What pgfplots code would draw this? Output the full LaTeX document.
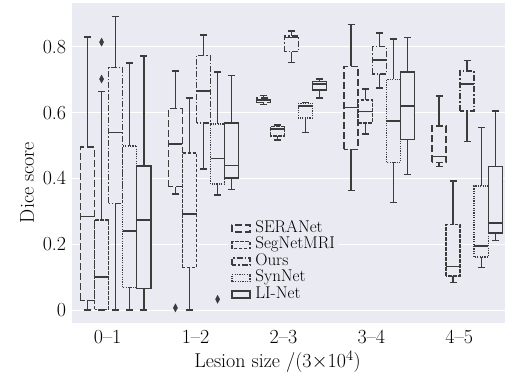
\documentclass[border=0pt]{standalone}
\usepackage{fontspec}
\usepackage{pgfplots}
\pgfplotsset{compat=1.18}
\usepgfplotslibrary{statistics}
\definecolor{bgc}{HTML}{EAEAF2}
\definecolor{dk}{HTML}{3C3C3C}
\tikzset{
  sera/.style={draw=dk, line width=1.5pt, dash pattern=on 7pt off 3pt},
  seg/.style={draw=dk, line width=1.5pt, dash pattern=on 3.5pt off 1.5pt},
  ours/.style={draw=dk, line width=1.5pt, dash pattern=on 6pt off 2pt on 1.5pt off 2pt},
  syn/.style={draw=dk, line width=1.5pt, dash pattern=on 1.2pt off 1.2pt},
  lin/.style={draw=dk, line width=1.5pt, solid},
  outl/.style={mark=diamond*, mark size=4pt, mark options={solid, fill=dk, draw=dk, xscale=0.7, line width=0.4pt}},
}
\begin{document}
\begin{tikzpicture}
\begin{axis}[
  scale only axis, width=433.3pt, height=320pt,
  xmin=-0.5, xmax=4.43, ymin=-0.04, ymax=0.932,
  axis background/.style={fill=bgc},
  axis line style={draw=none},
  major tick length=0pt,
  ymajorgrids, grid style={white, line width=1.2pt},
  xtick={0,1,2,3,4}, xticklabels={0--1,1--2,2--3,3--4,4--5},
  ytick={0,0.2,0.4,0.6,0.8},
  /pgf/number format/assume math mode=true,
  tick label style={font=\fontsize{20}{24}\selectfont},
  xticklabel style={xshift=-8pt, yshift=-3pt},
  yticklabel style={xshift=-2pt},
  xlabel={Lesion size /(3$\times$10$^4$)},
  ylabel={Dice score},
  every axis x label/.style={at={(axis description cs:0.475,-0.121)}, anchor=center, font=\fontsize{20}{24}\selectfont},
  every axis y label/.style={at={(axis description cs:-0.103,0.44)}, anchor=center, rotate=90, font=\fontsize{20}{24}\selectfont},
  boxplot/draw direction=y,
  boxplot/box extend=0.16,
  boxplot/whisker extend=0.08,
  boxplot/every box/.style={fill=bgc},
  boxplot/every whisker/.style={solid},
  boxplot/every median/.style={solid},
  legend image code/.code={\draw[#1, fill=bgc] (0pt,-3.5pt) rectangle (18pt,3.5pt);},
  legend style={at={(axis description cs:0.361,0.057)}, anchor=south west, draw=none, fill=bgc,
    font=\fontsize{17}{20}\selectfont, row sep=0pt,
    nodes={inner sep=0.5pt, text height=11.5pt, text depth=4pt},
    /tikz/every odd column/.append style={column sep=4pt}},
  legend cell align=left,
]
\addlegendimage{sera}\addlegendentry{SERANet}
\addlegendimage{seg}\addlegendentry{SegNetMRI}
\addlegendimage{ours}\addlegendentry{Ours}
\addlegendimage{syn}\addlegendentry{SynNet}
\addlegendimage{lin}\addlegendentry{LI-Net}

% group 0-1
\addplot[sera, forget plot, boxplot prepared={draw position=-0.32, lower whisker=0.0, lower quartile=0.03, median=0.285, upper quartile=0.495, upper whisker=0.83}] coordinates {};
\addplot[seg, outl, forget plot, boxplot prepared={draw position=-0.16, lower whisker=0.0, lower quartile=0.002, median=0.101, upper quartile=0.274, upper whisker=0.664}] coordinates {(0,0.814) (0,0.702)};
\addplot[ours, forget plot, boxplot prepared={draw position=0, lower whisker=0.0, lower quartile=0.324, median=0.540, upper quartile=0.737, upper whisker=0.892}] coordinates {};
\addplot[syn, forget plot, boxplot prepared={draw position=0.16, lower whisker=0.0, lower quartile=0.069, median=0.240, upper quartile=0.499, upper whisker=0.750}] coordinates {};
\addplot[lin, forget plot, boxplot prepared={draw position=0.32, lower whisker=0.0, lower quartile=0.066, median=0.274, upper quartile=0.438, upper whisker=0.772}] coordinates {};

% group 1-2
\addplot[sera, outl, forget plot, boxplot prepared={draw position=0.68, lower whisker=0.352, lower quartile=0.375, median=0.505, upper quartile=0.612, upper whisker=0.726}] coordinates {(0,0.007)};
\addplot[seg, forget plot, boxplot prepared={draw position=0.84, lower whisker=0.0, lower quartile=0.129, median=0.292, upper quartile=0.478, upper whisker=0.645}] coordinates {};
\addplot[ours, forget plot, boxplot prepared={draw position=1, lower whisker=0.428, lower quartile=0.569, median=0.666, upper quartile=0.773, upper whisker=0.836}] coordinates {};
\addplot[syn, outl, forget plot, boxplot prepared={draw position=1.16, lower whisker=0.350, lower quartile=0.383, median=0.461, upper quartile=0.566, upper whisker=0.724}] coordinates {(0,0.033)};
\addplot[lin, forget plot, boxplot prepared={draw position=1.32, lower whisker=0.367, lower quartile=0.401, median=0.440, upper quartile=0.569, upper whisker=0.713}] coordinates {};

% group 2-3
\addplot[sera, forget plot, boxplot prepared={draw position=1.68, lower whisker=0.625, lower quartile=0.630, median=0.638, upper quartile=0.645, upper whisker=0.652}] coordinates {};
\addplot[seg, forget plot, boxplot prepared={draw position=1.84, lower whisker=0.517, lower quartile=0.529, median=0.550, upper quartile=0.557, upper whisker=0.562}] coordinates {};
\addplot[ours, forget plot, boxplot prepared={draw position=2, lower whisker=0.752, lower quartile=0.785, median=0.828, upper quartile=0.833, upper whisker=0.848}] coordinates {};
\addplot[syn, forget plot, boxplot prepared={draw position=2.16, lower whisker=0.539, lower quartile=0.583, median=0.620, upper quartile=0.628, upper whisker=0.631}] coordinates {};
\addplot[lin, forget plot, boxplot prepared={draw position=2.32, lower whisker=0.645, lower quartile=0.669, median=0.687, upper quartile=0.694, upper whisker=0.702}] coordinates {};

% group 3-4
\addplot[sera, forget plot, boxplot prepared={draw position=2.68, lower whisker=0.363, lower quartile=0.488, median=0.616, upper quartile=0.740, upper whisker=0.868}] coordinates {};
\addplot[seg, forget plot, boxplot prepared={draw position=2.84, lower whisker=0.535, lower quartile=0.569, median=0.603, upper quartile=0.638, upper whisker=0.671}] coordinates {};
\addplot[ours, forget plot, boxplot prepared={draw position=3, lower whisker=0.674, lower quartile=0.717, median=0.760, upper quartile=0.800, upper whisker=0.841}] coordinates {};
\addplot[syn, forget plot, boxplot prepared={draw position=3.16, lower whisker=0.327, lower quartile=0.449, median=0.575, upper quartile=0.701, upper whisker=0.824}] coordinates {};
\addplot[lin, forget plot, boxplot prepared={draw position=3.32, lower whisker=0.412, lower quartile=0.519, median=0.620, upper quartile=0.724, upper whisker=0.828}] coordinates {};

% group 4-5
\addplot[sera, forget plot, boxplot prepared={draw position=3.68, lower whisker=0.436, lower quartile=0.449, median=0.466, upper quartile=0.559, upper whisker=0.651}] coordinates {};
\addplot[seg, forget plot, boxplot prepared={draw position=3.84, lower whisker=0.084, lower quartile=0.104, median=0.132, upper quartile=0.260, upper whisker=0.392}] coordinates {};
\addplot[ours, forget plot, boxplot prepared={draw position=4, lower whisker=0.512, lower quartile=0.605, median=0.687, upper quartile=0.726, upper whisker=0.758}] coordinates {};
\addplot[syn, forget plot, boxplot prepared={draw position=4.16, lower whisker=0.129, lower quartile=0.162, median=0.195, upper quartile=0.377, upper whisker=0.555}] coordinates {};
\addplot[lin, forget plot, boxplot prepared={draw position=4.32, lower whisker=0.211, lower quartile=0.235, median=0.265, upper quartile=0.436, upper whisker=0.605}] coordinates {};
\end{axis}
\pgfresetboundingbox
\path[use as bounding box] (-71.7pt,-55.7pt) rectangle (436.3pt,323.3pt);
\end{tikzpicture}
\end{document}
